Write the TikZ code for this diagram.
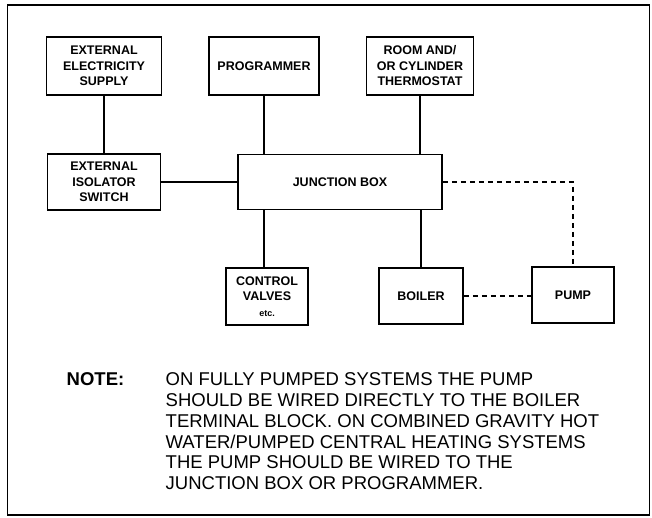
\documentclass[tikz,border=0pt]{standalone}
\usepackage{fontspec}
\setmainfont{Liberation Sans}
\usetikzlibrary{positioning}

\begin{document}
\begin{tikzpicture}[x=1pt, y=-1pt,
  unit/.style={draw, line width=1.6pt, align=center, inner sep=1pt,
    font=\bfseries\fontsize{12.5}{15.5}\selectfont},
  wire/.style={line width=1.5pt},
  link/.style={line width=1.6pt, dash pattern=on 5pt off 4pt}]
  \useasboundingbox (0,0) rectangle (652,517);
  \draw[line width=1.4pt] (7.5,5) rectangle (649.5,515);

  \node[unit, minimum width=115pt, minimum height=58pt] (supply) at (104,66) {EXTERNAL\\ELECTRICITY\\SUPPLY};
  \node[unit, minimum width=110pt, minimum height=58pt] (prog) at (264,66) {PROGRAMMER};
  \node[unit, minimum width=107pt, minimum height=58pt] (thermo) at (420,66) {ROOM AND/\\OR CYLINDER\\THERMOSTAT};
  \node[unit, minimum width=113pt, minimum height=56pt] (isolator) at (104,182) {EXTERNAL\\ISOLATOR\\SWITCH};
  \node[unit, minimum width=204pt, minimum height=55pt] (jb) at (340,182) {JUNCTION BOX};
  \node[unit, minimum width=82pt, minimum height=57pt] (valves) at (267,296.5) {CONTROL\\VALVES\\{\fontsize{9}{15.5}\selectfont etc.}};
  \node[unit, minimum width=84pt, minimum height=56pt] (boiler) at (421,296) {BOILER};
  \node[unit, minimum width=82pt, minimum height=56pt] (pump) at (573,295) {PUMP};

  \draw[wire] (supply.south) -- (supply.south |- isolator.north);
  \draw[wire] (prog.south) -- (prog.south |- jb.north);
  \draw[wire] (thermo.south) -- (thermo.south |- jb.north);
  \draw[wire] (isolator.east) -- (isolator.east -| jb.west);
  \draw[wire] (jb.south -| prog.south) -- (valves.north -| prog.south);
  \draw[wire] (jb.south -| boiler.north) -- (boiler.north);
  \draw[link] (jb.east) -| (pump.north);
  \draw[link] (boiler.east) -- (boiler.east -| pump.west);

  \node[anchor=base west, inner sep=0pt, font=\bfseries\fontsize{18.5}{20.8}\selectfont] (notehead) at (66.5,385.6) {NOTE:};
  \node[anchor=base west, inner sep=0pt, align=left, font=\fontsize{18.5}{20.8}\selectfont] (notetext) at (165.5,489.6)
    {ON FULLY PUMPED SYSTEMS THE PUMP\\
     SHOULD BE WIRED DIRECTLY TO THE BOILER\\
     TERMINAL BLOCK. ON COMBINED GRAVITY HOT\\
     WATER/PUMPED CENTRAL HEATING SYSTEMS\\
     THE PUMP SHOULD BE WIRED TO THE\\
     JUNCTION BOX OR PROGRAMMER.};
\end{tikzpicture}
\end{document}
